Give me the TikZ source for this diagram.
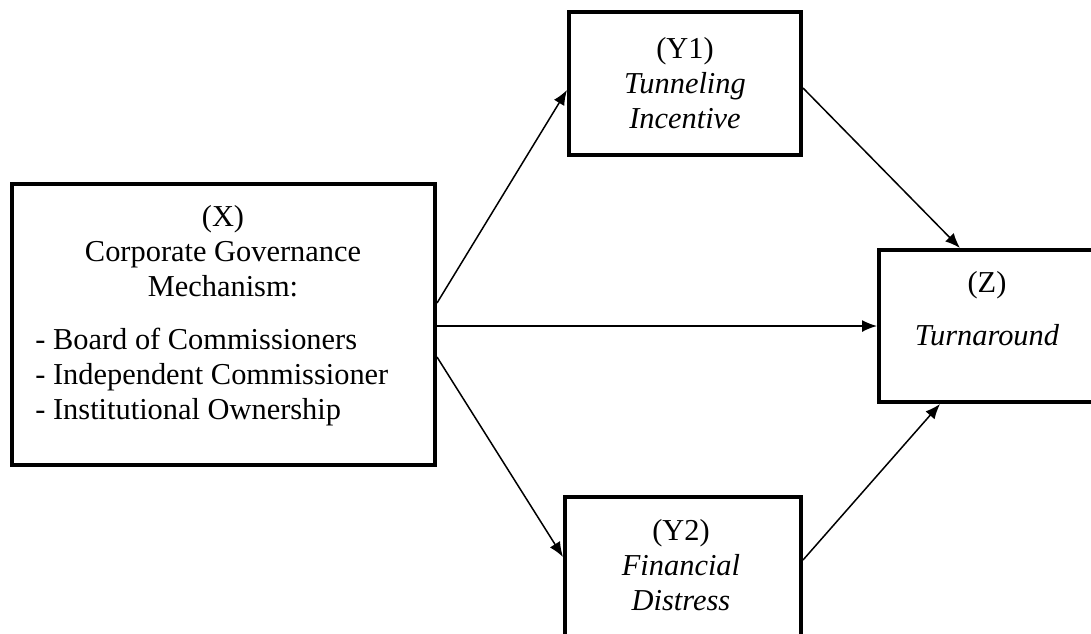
\documentclass[tikz,border=0pt]{standalone}
\usepackage{fontspec}
\setmainfont{Liberation Serif}
\usetikzlibrary{arrows.meta}
\begin{document}
\begin{tikzpicture}[x=0.5pt,y=-0.5pt,
  box/.style={draw=black,line width=2pt,rectangle,inner sep=0pt,fill=white},
  lbl/.style={inner sep=0pt,align=center,font=\fontsize{15.2pt}{17.5pt}\selectfont},
  conn/.style={line width=0.75pt,-{Latex[length=7.5pt,width=6pt]}}]
\useasboundingbox (0,0) rectangle (1091,633);
\clip (0,0) rectangle (1091,633);
% boxes
\node[box,minimum width=211.5pt,minimum height=140.5pt] (X) at (223.5,324.5) {};
\node[box,minimum width=116pt,minimum height=71.5pt] (Y1) at (685,83.5) {};
\node[box,minimum width=107pt,minimum height=76pt] (Z) at (986,326) {};
\node[box,minimum width=118pt,minimum height=70.5pt] (Y2) at (683,567.5) {};
% texts
\node[lbl] (Xt) at (223,251) {(X)\\Corporate Governance\\Mechanism:};
\node[lbl,align=left,anchor=west] (Xl) at (35,377) {- Board of Commissioners\\- Independent Commissioner\\- Institutional Ownership};
\node[lbl] (Y1t) at (685,83) {(Y1)\\\textit{Tunneling}\\\textit{Incentive}};
\node[lbl] (Y2t) at (681,565) {(Y2)\\\textit{Financial}\\\textit{Distress}};
\node[lbl] (Zt) at (987,285) {(Z)};
\node[lbl] (Zt2) at (987,335) {\textit{Turnaround}};
% connectors
\draw[conn] ([yshift=10.75pt]X.east) -- ([yshift=-3.25pt]Y1.west);
\draw[conn] ([yshift=-0.75pt]X.east) -- ([yshift=-0.75pt]X.east -| Z.west);
\draw[conn] ([yshift=-16.25pt]X.east) -- ([yshift=5.25pt]Y2.west);
\draw[conn] ([yshift=-2.25pt]Y1.east) -- ([xshift=-13pt]Z.north);
\draw[conn] ([yshift=3.75pt]Y2.east) -- ([xshift=-23pt]Z.south);
\end{tikzpicture}
\end{document}
